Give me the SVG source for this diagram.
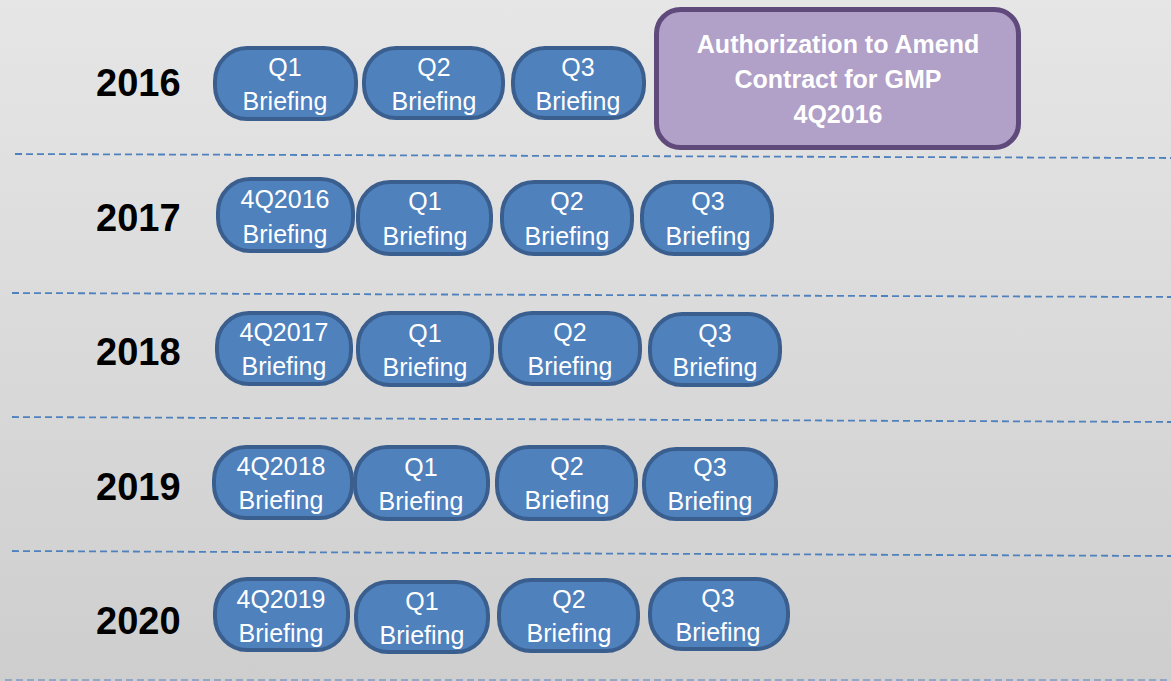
<svg xmlns="http://www.w3.org/2000/svg" width="1171" height="681" viewBox="0 0 1171 681">
<defs>
<linearGradient id="bg" x1="0" y1="0" x2="0" y2="1">
<stop offset="0" stop-color="#e6e6e6"/>
<stop offset="1" stop-color="#cecece"/>
</linearGradient>
</defs>
<style>
.pill{fill:#4f81bd;stroke:#3a5e8e;stroke-width:4}
.pt{font-family:"Liberation Sans",Arial,sans-serif;font-size:25px;fill:#fff;text-anchor:middle}
.yr{font-family:"Liberation Sans",Arial,sans-serif;font-size:38px;font-weight:bold;fill:#000}
.dash{stroke:#4f81bd;stroke-width:1.8;stroke-dasharray:7 4;fill:none}
.auth{fill:#b1a0c7;stroke:#604a7b;stroke-width:5}
.at{font-family:"Liberation Sans",Arial,sans-serif;font-size:25px;font-weight:bold;fill:#fff;text-anchor:middle}
</style>
<rect width="1171" height="681" fill="url(#bg)"/>
<g id="connectors">
<line class="dash" x1="15" y1="154" x2="1171" y2="158"/>
<line class="dash" x1="12" y1="293" x2="1171" y2="297"/>
<line class="dash" x1="12" y1="417" x2="1171" y2="422"/>
<line class="dash" x1="12" y1="551" x2="1171" y2="556"/>
<line class="dash" x1="5" y1="680" x2="1171" y2="680" opacity="0.5"/>
</g>
<g id="years">
<text class="yr" x="96" y="96">2016</text>
<text class="yr" x="96" y="231">2017</text>
<text class="yr" x="96" y="365">2018</text>
<text class="yr" x="96" y="500">2019</text>
<text class="yr" x="96" y="634">2020</text>
</g>
<g id="auth">
<rect class="auth" x="656.5" y="9.5" width="362" height="138" rx="24"/>
<text class="at" x="838" y="53">Authorization to Amend</text>
<text class="at" x="838" y="88">Contract for GMP</text>
<text class="at" x="838" y="123">4Q2016</text>
</g>
<g id="r2016q1"><rect class="pill" x="215" y="48" width="141" height="71" rx="32" ry="33"/><text class="pt" x="285" y="76">Q1</text><text class="pt" x="285" y="110">Briefing</text></g>
<g id="r2016q2"><rect class="pill" x="364" y="48" width="139" height="70" rx="32" ry="33"/><text class="pt" x="434" y="76">Q2</text><text class="pt" x="434" y="110">Briefing</text></g>
<g id="r2016q3"><rect class="pill" x="513" y="48" width="131" height="70" rx="32" ry="33"/><text class="pt" x="578" y="76">Q3</text><text class="pt" x="578" y="110">Briefing</text></g>

<g id="r2017q4"><rect class="pill" x="218" y="179" width="135" height="72" rx="32" ry="33"/><text class="pt" x="285" y="208">4Q2016</text><text class="pt" x="285" y="243">Briefing</text></g>
<g id="r2017q1"><rect class="pill" x="358" y="182" width="133" height="72" rx="32" ry="33"/><text class="pt" x="425" y="210">Q1</text><text class="pt" x="425" y="245">Briefing</text></g>
<g id="r2017q2"><rect class="pill" x="502" y="182" width="130" height="72" rx="32" ry="33"/><text class="pt" x="567" y="210">Q2</text><text class="pt" x="567" y="245">Briefing</text></g>
<g id="r2017q3"><rect class="pill" x="642" y="182" width="130" height="72" rx="32" ry="33"/><text class="pt" x="708" y="210">Q3</text><text class="pt" x="708" y="245">Briefing</text></g>

<g id="r2018q4"><rect class="pill" x="217" y="313" width="134" height="71" rx="32" ry="33"/><text class="pt" x="284" y="341">4Q2017</text><text class="pt" x="284" y="375">Briefing</text></g>
<g id="r2018q1"><rect class="pill" x="358" y="313" width="134" height="72" rx="32" ry="33"/><text class="pt" x="425" y="342">Q1</text><text class="pt" x="425" y="376">Briefing</text></g>
<g id="r2018q2"><rect class="pill" x="500" y="313" width="140" height="71" rx="32" ry="33"/><text class="pt" x="570" y="341">Q2</text><text class="pt" x="570" y="375">Briefing</text></g>
<g id="r2018q3"><rect class="pill" x="650" y="314" width="130" height="71" rx="32" ry="33"/><text class="pt" x="715" y="342">Q3</text><text class="pt" x="715" y="376">Briefing</text></g>

<g id="r2019q4"><rect class="pill" x="214" y="447" width="138" height="71" rx="32" ry="33"/><text class="pt" x="281" y="475">4Q2018</text><text class="pt" x="281" y="509">Briefing</text></g>
<g id="r2019q1"><rect class="pill" x="355" y="447" width="133" height="72" rx="32" ry="33"/><text class="pt" x="421" y="476">Q1</text><text class="pt" x="421" y="510">Briefing</text></g>
<g id="r2019q2"><rect class="pill" x="497" y="447" width="139" height="72" rx="32" ry="33"/><text class="pt" x="567" y="475">Q2</text><text class="pt" x="567" y="509">Briefing</text></g>
<g id="r2019q3"><rect class="pill" x="644" y="449" width="132" height="70" rx="32" ry="33"/><text class="pt" x="710" y="476">Q3</text><text class="pt" x="710" y="510">Briefing</text></g>

<g id="r2020q4"><rect class="pill" x="215" y="579" width="133" height="71" rx="32" ry="33"/><text class="pt" x="281" y="608">4Q2019</text><text class="pt" x="281" y="642">Briefing</text></g>
<g id="r2020q1"><rect class="pill" x="356" y="582" width="132" height="70" rx="32" ry="33"/><text class="pt" x="422" y="610">Q1</text><text class="pt" x="422" y="644">Briefing</text></g>
<g id="r2020q2"><rect class="pill" x="499" y="580" width="139" height="71" rx="32" ry="33"/><text class="pt" x="569" y="608">Q2</text><text class="pt" x="569" y="642">Briefing</text></g>
<g id="r2020q3"><rect class="pill" x="650" y="579" width="138" height="70" rx="32" ry="33"/><text class="pt" x="718" y="607">Q3</text><text class="pt" x="718" y="641">Briefing</text></g>
</svg>
